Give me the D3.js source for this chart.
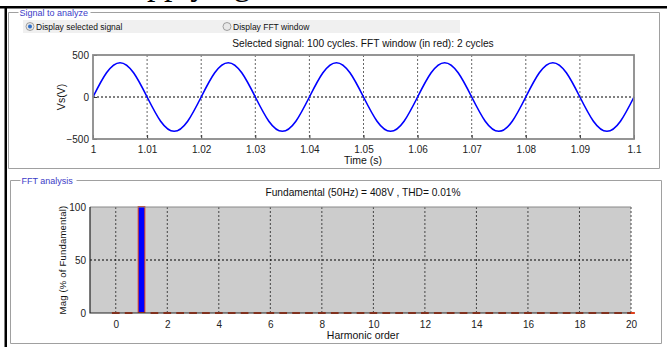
<!DOCTYPE html>
<html>
<head>
<meta charset="utf-8">
<script src="https://cdn.jsdelivr.net/npm/d3@7"></script>
<style>
  body { margin: 0; background: #fff; }
  svg { display: block; font-family: "Liberation Sans", Arial, sans-serif; }
</style>
</head>
<body>
<div id="chart"></div>
<script>
// signal samples (s, V), read every quarter period from the trace
const timeValues = [1.0000, 1.0025, 1.0050, 1.0075, 1.0100, 1.0125, 1.0150, 1.0175,
  1.0200, 1.0225, 1.0250, 1.0275, 1.0300, 1.0325, 1.0350, 1.0375,
  1.0400, 1.0425, 1.0450, 1.0475, 1.0500, 1.0525, 1.0550, 1.0575,
  1.0600, 1.0625, 1.0650, 1.0675, 1.0700, 1.0725, 1.0750, 1.0775,
  1.0800, 1.0825, 1.0850, 1.0875, 1.0900, 1.0925, 1.0950, 1.0975, 1.1000];
const voltValues = [0, 288, 408, 288, 0, -288, -408, -288,
  0, 288, 408, 288, 0, -288, -408, -288,
  0, 288, 408, 288, 0, -288, -408, -288,
  0, 288, 408, 288, 0, -288, -408, -288,
  0, 288, 408, 288, 0, -288, -408, -288, 0];
const timeTicks = [1, 1.01, 1.02, 1.03, 1.04, 1.05, 1.06, 1.07, 1.08, 1.09, 1.1];
const voltTicks = [-500, 0, 500];

// FFT bins (harmonic order, % of fundamental)
const harmonicOrders = [0, 0.5, 1, 1.5, 2, 2.5, 3, 3.5, 4, 4.5, 5, 5.5, 6, 6.5, 7, 7.5,
  8, 8.5, 9, 9.5, 10, 10.5, 11, 11.5, 12, 12.5, 13, 13.5, 14, 14.5, 15, 15.5,
  16, 16.5, 17, 17.5, 18, 18.5, 19, 19.5, 20];
const magValues = [0.01, 0, 100, 0, 0.005, 0, 0.004, 0, 0.003, 0, 0.005, 0, 0.002, 0, 0.004, 0,
  0.002, 0, 0.003, 0, 0.002, 0, 0.003, 0, 0.002, 0, 0.002, 0, 0.001, 0, 0.002, 0,
  0.001, 0, 0.002, 0, 0.001, 0, 0.001, 0, 0.001];
const harmonicTicks = [0, 2, 4, 6, 8, 10, 12, 14, 16, 18, 20];
const magTicks = [0, 50, 100];

const W = 667, H = 347;
const svg = d3.select('#chart').append('svg').attr('width', W).attr('height', H);

// caption of the page above, only its descenders show
svg.append('text').attr('x', 111).attr('y', -5)
  .style('font-family', '"Liberation Serif", "Times New Roman", serif')
  .style('font-size', '34px').attr('fill', '#000').text('Supplying');

// page frame
svg.append('rect').attr('x', 0).attr('y', 6).attr('width', W).attr('height', 2.5).attr('fill', '#000');
svg.append('rect').attr('x', 4.5).attr('y', 6).attr('width', 2.5).attr('height', H).attr('fill', '#000');

// group boxes
function groupBox(x, y, w, h, label, labelW) {
  const g = svg.append('g');
  g.append('path')
    .attr('d', `M${x + 10},${y}H${x}V${y + h}H${x + w}V${y}H${x + 12 + labelW}`)
    .attr('fill', 'none').attr('stroke', '#a0a0a0').attr('stroke-width', 1);
  g.append('text').attr('x', x + 11).attr('y', y + 3.5)
    .attr('font-size', 9).attr('fill', '#3c3cc8').text(label);
}
groupBox(8.5, 12.5, 651, 156, 'Signal to analyze', 70);
groupBox(10.5, 180.5, 651, 163, 'FFT analysis', 54);

// radio row
svg.append('rect').attr('x', 23).attr('y', 20).attr('width', 437).attr('height', 13).attr('fill', '#f0f0f0');
function radio(x, label, on) {
  svg.append('circle').attr('cx', x).attr('cy', 26.5).attr('r', 4)
    .attr('fill', '#e8e8e8').attr('stroke', '#8c8c8c').attr('stroke-width', 0.8);
  if (on) svg.append('circle').attr('cx', x).attr('cy', 26.5).attr('r', 2).attr('fill', '#2a6cc8');
  svg.append('text').attr('x', x + 6).attr('y', 29.5).attr('font-size', 8.5).attr('fill', '#111').text(label);
}
radio(30, 'Display selected signal', true);
radio(227, 'Display FFT window', false);

// ---- time signal plot ----
const sigBox = { x0: 93, x1: 634, y0: 55, y1: 139 };
const xT = d3.scaleLinear().domain([1, 1.1]).range([sigBox.x0, sigBox.x1]);
const yT = d3.scaleLinear().domain([-500, 500]).range([sigBox.y1, sigBox.y0]);

svg.append('text').attr('x', 363).attr('y', 47).attr('text-anchor', 'middle')
  .attr('font-size', 10.2).attr('fill', '#111')
  .text('Selected signal: 100 cycles. FFT window (in red): 2 cycles');

const gTop = svg.append('g');
gTop.append('rect').attr('x', sigBox.x0).attr('y', sigBox.y0)
  .attr('width', sigBox.x1 - sigBox.x0).attr('height', sigBox.y1 - sigBox.y0).attr('fill', '#fff');
gTop.selectAll('.vgrid').data(timeTicks.slice(1, -1)).enter().append('line')
  .attr('x1', d => xT(d)).attr('x2', d => xT(d)).attr('y1', sigBox.y0).attr('y2', sigBox.y1)
  .attr('stroke', '#666').attr('stroke-dasharray', '2,2');
gTop.append('line').attr('x1', sigBox.x0).attr('x2', sigBox.x1).attr('y1', yT(0)).attr('y2', yT(0))
  .attr('stroke', '#000').attr('stroke-dasharray', '2,2');

const xAxisT = gTop.append('g').attr('transform', `translate(0,${sigBox.y1})`)
  .call(d3.axisBottom(xT).tickValues(timeTicks).tickFormat(d3.format('')).tickSize(-4).tickPadding(7));
const yAxisT = gTop.append('g').attr('transform', `translate(${sigBox.x0},0)`)
  .call(d3.axisLeft(yT).tickValues(voltTicks).tickSize(-4).tickPadding(4));
[xAxisT, yAxisT].forEach(a => {
  a.select('.domain').remove();
  a.selectAll('line').attr('stroke', '#333');
  a.selectAll('text').attr('font-size', 10).attr('fill', '#222');
});

const line = d3.line().x(d => xT(d[0])).y(d => yT(d[1])).curve(d3.curveNatural);
gTop.append('path').datum(d3.zip(timeValues, voltValues)).attr('d', line)
  .attr('fill', 'none').attr('stroke', '#0000ff').attr('stroke-width', 1.6);

gTop.append('rect').attr('x', sigBox.x0).attr('y', sigBox.y0)
  .attr('width', sigBox.x1 - sigBox.x0).attr('height', sigBox.y1 - sigBox.y0)
  .attr('fill', 'none').attr('stroke', '#8a8a8a').attr('stroke-width', 1.8);

svg.append('text').attr('transform', `translate(65,${yT(0)}) rotate(-90)`).attr('text-anchor', 'middle')
  .attr('font-size', 10.5).attr('fill', '#111').text('Vs(V)');
svg.append('text').attr('x', 363).attr('y', 164).attr('text-anchor', 'middle')
  .attr('font-size', 10.5).attr('fill', '#111').text('Time (s)');

// ---- FFT plot ----
const fftBox = { x0: 90, x1: 631, y0: 207, y1: 313 };
const xF = d3.scaleLinear().domain([-1, 20]).range([fftBox.x0, fftBox.x1]);
const yF = d3.scaleLinear().domain([0, 100]).range([fftBox.y1, fftBox.y0]);

svg.append('text').attr('x', 363).attr('y', 196).attr('text-anchor', 'middle')
  .attr('font-size', 10.2).attr('fill', '#111')
  .text('Fundamental (50Hz) = 408V , THD= 0.01%');

const gBot = svg.append('g');
gBot.append('rect').attr('x', fftBox.x0).attr('y', fftBox.y0)
  .attr('width', fftBox.x1 - fftBox.x0).attr('height', fftBox.y1 - fftBox.y0).attr('fill', '#cccccc');
gBot.selectAll('.vgrid').data(harmonicTicks).enter().append('line')
  .attr('x1', d => xF(d)).attr('x2', d => xF(d)).attr('y1', fftBox.y0).attr('y2', fftBox.y1)
  .attr('stroke', '#444').attr('stroke-dasharray', '2,2');
gBot.append('line').attr('x1', fftBox.x0).attr('x2', fftBox.x1).attr('y1', yF(50)).attr('y2', yF(50))
  .attr('stroke', '#000').attr('stroke-dasharray', '2,2');

const barW = xF(0.26) - xF(0);
gBot.selectAll('.bar').data(d3.zip(harmonicOrders, magValues)).enter().append('rect')
  .attr('x', d => xF(d[0]) - barW / 2).attr('width', barW)
  .attr('y', d => yF(d[1]) - 0.5).attr('height', d => Math.max(1, yF(0) - yF(d[1])))
  .attr('fill', '#0000ff').attr('stroke', '#e0401a').attr('stroke-width', 1);

const xAxisF = gBot.append('g').attr('transform', `translate(0,${fftBox.y1})`)
  .call(d3.axisBottom(xF).tickValues(harmonicTicks).tickSize(0).tickPadding(8));
const yAxisF = gBot.append('g').attr('transform', `translate(${fftBox.x0},0)`)
  .call(d3.axisLeft(yF).tickValues(magTicks).tickSize(0).tickPadding(4));
[xAxisF, yAxisF].forEach(a => {
  a.select('.domain').remove();
  a.selectAll('text').attr('font-size', 10).attr('fill', '#222');
});

gBot.append('path')
  .attr('d', `M${fftBox.x0},${fftBox.y0}H${fftBox.x1}`).attr('stroke', '#888').attr('stroke-width', 1);
gBot.append('path')
  .attr('d', `M${fftBox.x0},${fftBox.y0}V${fftBox.y1}H${fftBox.x1}`)
  .attr('fill', 'none').attr('stroke', '#222').attr('stroke-width', 1.2);

svg.append('text').attr('transform', `translate(66,${yF(50)}) rotate(-90)`).attr('text-anchor', 'middle')
  .attr('font-size', 9.5).attr('letter-spacing', 0.2).attr('fill', '#111').text('Mag (% of Fundamental)');
svg.append('text').attr('x', 363).attr('y', 339).attr('text-anchor', 'middle')
  .attr('font-size', 10.5).attr('fill', '#111').text('Harmonic order');
</script>
</body>
</html>
